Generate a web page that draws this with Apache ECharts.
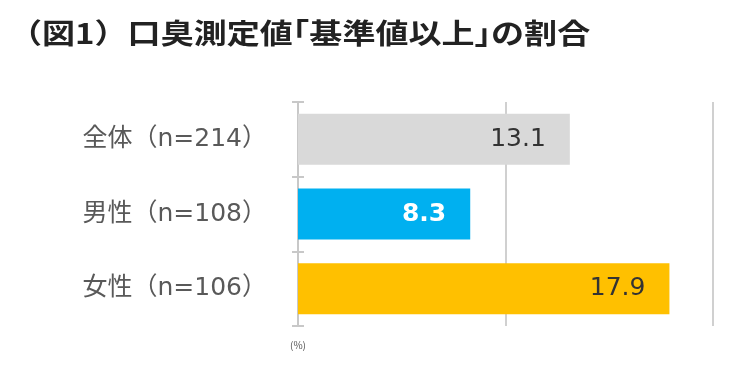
<!DOCTYPE html>
<html><head><meta charset="utf-8">
<script src="https://cdn.jsdelivr.net/npm/echarts@6/dist/echarts.min.js"></script>
<style>html,body{margin:0;padding:0;background:#fff}#c{width:746px;height:374px}</style>
</head><body><div id="c"></div>
<script>
const categories = ['全体（n=214）', '男性（n=108）', '女性（n=106）'];
const values = [13.1, 8.3, 17.9];
const barColors = ['#d9d9d9', '#00b0f0', '#ffc000'];
const labelColors = ['#333333', '#ffffff', '#333333'];
const labelWeights = ['normal', 'bold', 'normal'];
const titleText = '（図1）口臭測定値｢基準値以上｣の割合';
const unitText = '(%)';

const chart = echarts.init(document.getElementById('c'));
const cjk = '"Noto Sans CJK JP", sans-serif';
const mixed = '"DejaVu Sans", "Noto Sans CJK JP", sans-serif';
chart.setOption({
  animation: false,
  graphic: [{
    type: 'text', x: 9, y: 33, scaleX: 1.18, scaleY: 1,
    style: { text: titleText, fontSize: 28, fontWeight: 'bold', fill: '#222222',
      fontFamily: cjk, verticalAlign: 'middle', align: 'left' }
  }, {
    type: 'text', left: 290, top: 340,
    style: { text: unitText, fontSize: 10, fill: '#555', fontFamily: cjk }
  }],
  grid: { left: 298, right: 33, top: 102, bottom: 48 },
  xAxis: {
    type: 'value', min: 0, max: 20, interval: 10,
    axisLabel: { show: false }, axisLine: { show: false }, axisTick: { show: false },
    splitLine: { show: true, lineStyle: { color: '#d0d0d0', width: 2 } }
  },
  yAxis: [{
    type: 'category', data: categories, inverse: true,
    axisLine: { show: true, lineStyle: { color: '#c8c8c8', width: 2 } },
    axisTick: { show: true, length: 6, lineStyle: { color: '#c8c8c8', width: 2 } },
    axisLabel: { fontFamily: mixed, fontSize: 25, color: '#595959', margin: 31 }
  }, {
    type: 'category', data: categories, inverse: true, position: 'left',
    axisLine: { show: false },
    axisTick: { show: true, inside: true, length: 6, lineStyle: { color: '#c8c8c8', width: 2 } },
    axisLabel: { show: false }
  }],
  series: [{
    type: 'bar', barWidth: 51,
    data: values.map((v, i) => ({
      value: v,
      itemStyle: { color: barColors[i] },
      label: { color: labelColors[i], fontWeight: labelWeights[i] }
    })),
    label: {
      show: true, position: 'insideRight', distance: 24,
      fontFamily: mixed, fontSize: 25,
      formatter: p => p.value.toFixed(1)
    }
  }]
});
</script></body></html>
